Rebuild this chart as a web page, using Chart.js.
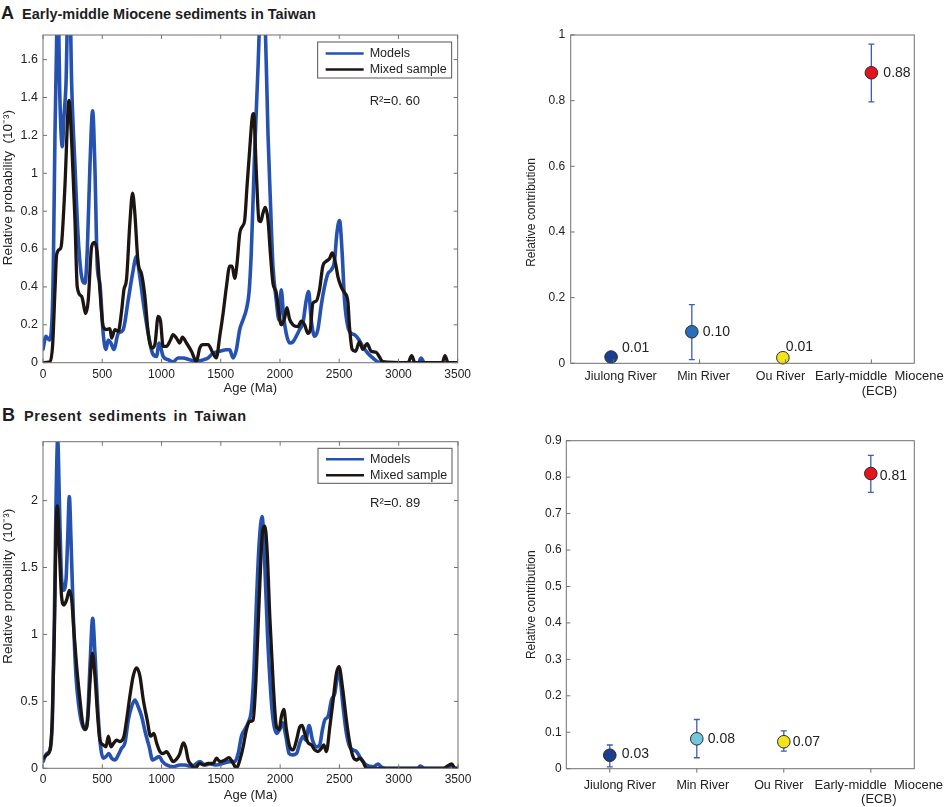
<!DOCTYPE html>
<html>
<head>
<meta charset="utf-8">
<script src="https://cdn.jsdelivr.net/npm/chart.js@4.4.1/dist/chart.umd.min.js"></script>
<style>
  body { margin: 0; background: #fff; width: 948px; height: 807px; position: relative; overflow: hidden;
         font-family: "Liberation Sans", Arial, sans-serif; color: #1e1e1e; }
  .head { position: absolute; left: 1px; font-weight: bold; font-size: 18px; line-height: 20px; white-space: nowrap; }
  .head .ttl { font-size: 14.5px; margin-left: 8px; }
  .box { position: absolute; }
</style>
</head>
<body>

<div class="head" style="top:3px"><span>A</span><span class="ttl">Early-middle Miocene sediments in Taiwan</span></div>
<div class="head" style="top:405px;left:2px"><span>B</span><span class="ttl" style="margin-left:9px;letter-spacing:0.7px;word-spacing:2px">Present sediments in Taiwan</span></div>

<div class="box" style="left:0;top:20px;width:476px;height:380px"><canvas id="specA"></canvas></div>
<div class="box" style="left:480px;top:20px;width:468px;height:380px"><canvas id="shareA"></canvas></div>
<div class="box" style="left:0;top:420px;width:476px;height:387px"><canvas id="specB"></canvas></div>
<div class="box" style="left:480px;top:420px;width:468px;height:387px"><canvas id="shareB"></canvas></div>

<script>
/*
 * Age spectra (age in Ma, relative probability in 10^-3)
 */
const aModelAge = [0, 25, 53, 73, 87, 101, 115, 125, 143, 163, 177, 194, 213, 228, 242, 270, 298, 326, 354, 374, 396, 419, 438, 458, 480, 508, 531, 551, 573, 598, 635, 677, 719, 756, 789, 817, 851, 888, 924, 958, 980, 1014, 1056, 1098, 1140, 1182, 1239, 1295, 1351, 1393, 1435, 1492, 1548, 1576, 1604, 1632, 1660, 1688, 1716, 1739, 1758, 1787, 1815, 1834, 1852, 1871, 1899, 1919, 1941, 1969, 1992, 2011, 2031, 2053, 2081, 2110, 2138, 2166, 2194, 2222, 2242, 2264, 2292, 2320, 2348, 2376, 2405, 2433, 2461, 2480, 2503, 2525, 2545, 2573, 2601, 2629, 2657, 2699, 2742, 2784, 2826, 2860, 3170, 3191, 3219, 3500];
const aModelVal = [0.07, 0.14, 0.12, 0.19, 0.5, 1.2, 1.7, 1.95, 1.385, 1.14, 1.3, 1.47, 1.95, 1.9, 1.47, 1.035, 0.65, 0.455, 0.42, 0.595, 1.035, 1.33, 1.035, 0.51, 0.42, 0.155, 0.07, 0.12, 0.104, 0.07, 0.155, 0.175, 0.33, 0.47, 0.56, 0.455, 0.3, 0.155, 0.05, 0.033, 0.104, 0.033, 0.016, 0.005, 0.025, 0.025, 0.015, 0.007, 0.015, 0.025, 0.05, 0.06, 0.068, 0.068, 0.025, 0.068, 0.174, 0.226, 0.28, 0.37, 0.58, 1.12, 1.56, 1.9, 2.05, 1.9, 1.21, 0.86, 0.51, 0.33, 0.226, 0.385, 0.245, 0.155, 0.104, 0.11, 0.14, 0.175, 0.21, 0.33, 0.375, 0.226, 0.14, 0.175, 0.3, 0.4, 0.47, 0.49, 0.54, 0.68, 0.75, 0.58, 0.33, 0.19, 0.155, 0.148, 0.13, 0.086, 0.05, 0.025, 0.005, 0, 0, 0.025, 0, 0];

const aMixAge = [0, 59, 81, 101, 115, 143, 157, 185, 213, 219, 242, 270, 289, 326, 362, 382, 410, 433, 458, 480, 508, 536, 565, 579, 607, 635, 663, 683, 705, 733, 756, 775, 803, 831, 860, 888, 916, 944, 972, 992, 1014, 1042, 1076, 1098, 1126, 1154, 1177, 1211, 1253, 1295, 1323, 1351, 1393, 1435, 1463, 1492, 1520, 1548, 1576, 1596, 1618, 1638, 1660, 1683, 1702, 1722, 1744, 1767, 1778, 1801, 1823, 1837, 1857, 1876, 1899, 1919, 1941, 1969, 1992, 2011, 2039, 2059, 2081, 2110, 2152, 2180, 2208, 2236, 2256, 2278, 2306, 2334, 2362, 2390, 2419, 2441, 2469, 2489, 2517, 2545, 2573, 2587, 2610, 2638, 2671, 2699, 2736, 2770, 2812, 2840, 2868, 3080, 3112, 3140, 3370, 3393, 3420, 3500];
const aMixVal = [0, 0.005, 0.09, 0.38, 0.57, 0.6, 0.63, 0.93, 1.36, 1.385, 1.17, 0.75, 0.4, 0.35, 0.26, 0.33, 0.61, 0.635, 0.58, 0.385, 0.19, 0.175, 0.18, 0.13, 0.175, 0.165, 0.27, 0.385, 0.44, 0.735, 0.895, 0.79, 0.525, 0.47, 0.35, 0.155, 0.077, 0.095, 0.245, 0.22, 0.086, 0.086, 0.12, 0.148, 0.13, 0.104, 0.135, 0.104, 0.06, 0.007, 0.077, 0.095, 0.095, 0.05, 0.025, 0.14, 0.26, 0.4, 0.51, 0.51, 0.445, 0.525, 0.68, 0.72, 0.75, 0.93, 1.12, 1.3, 1.315, 1.0, 0.75, 0.745, 0.79, 0.82, 0.755, 0.58, 0.42, 0.37, 0.26, 0.2, 0.235, 0.29, 0.23, 0.2, 0.19, 0.22, 0.2, 0.155, 0.175, 0.315, 0.325, 0.385, 0.51, 0.535, 0.55, 0.58, 0.525, 0.455, 0.4, 0.37, 0.325, 0.19, 0.07, 0.06, 0.11, 0.07, 0.1, 0.06, 0.055, 0.03, 0.005, 0, 0.037, 0, 0, 0.037, 0, 0];

const bModelAge = [0, 31, 59, 79, 96, 110, 124, 138, 152, 171, 194, 208, 222, 236, 256, 278, 303, 326, 354, 377, 396, 419, 438, 461, 486, 508, 531, 556, 579, 607, 635, 663, 691, 719, 747, 775, 803, 831, 865, 896, 924, 952, 980, 1008, 1042, 1098, 1154, 1197, 1253, 1323, 1365, 1407, 1463, 1520, 1576, 1618, 1646, 1674, 1702, 1730, 1758, 1778, 1801, 1823, 1848, 1871, 1893, 1919, 1941, 1969, 1997, 2020, 2048, 2076, 2104, 2138, 2166, 2194, 2216, 2244, 2273, 2306, 2334, 2357, 2376, 2405, 2433, 2461, 2489, 2503, 2531, 2559, 2587, 2615, 2643, 2671, 2699, 2727, 2784, 2826, 2854, 2896, 3160, 3180, 3219, 3420, 3447, 3475, 3500];
const bModelVal = [0.05, 0.11, 0.137, 0.36, 1.13, 2.0, 2.46, 2.0, 1.51, 1.33, 1.41, 1.71, 2.03, 1.71, 1.13, 0.69, 0.46, 0.34, 0.29, 0.39, 0.76, 1.12, 0.86, 0.46, 0.16, 0.075, 0.087, 0.11, 0.075, 0.062, 0.1, 0.15, 0.19, 0.36, 0.46, 0.51, 0.46, 0.39, 0.26, 0.16, 0.062, 0.075, 0.087, 0.05, 0.025, 0.012, 0.025, 0.025, 0.012, 0.05, 0.025, 0.032, 0.025, 0.037, 0.05, 0.05, 0.11, 0.24, 0.29, 0.34, 0.44, 0.71, 1.26, 1.68, 1.88, 1.51, 1.01, 0.59, 0.36, 0.26, 0.29, 0.34, 0.24, 0.11, 0.1, 0.11, 0.19, 0.24, 0.21, 0.32, 0.21, 0.16, 0.175, 0.29, 0.36, 0.39, 0.51, 0.56, 0.71, 0.69, 0.46, 0.26, 0.16, 0.137, 0.125, 0.087, 0.05, 0.025, 0.012, 0.032, 0.01, 0, 0, 0.017, 0, 0, 0.025, 0, 0];

const bMixAge = [0, 31, 59, 79, 96, 110, 121, 138, 157, 177, 200, 222, 242, 262, 284, 312, 334, 354, 377, 396, 416, 438, 461, 480, 508, 531, 551, 573, 598, 621, 649, 683, 705, 733, 761, 789, 817, 846, 879, 907, 935, 958, 986, 1014, 1042, 1070, 1098, 1132, 1154, 1183, 1202, 1225, 1253, 1281, 1323, 1351, 1393, 1435, 1463, 1492, 1534, 1567, 1604, 1632, 1660, 1688, 1716, 1744, 1772, 1795, 1823, 1851, 1871, 1890, 1913, 1941, 1969, 1992, 2011, 2031, 2053, 2081, 2110, 2138, 2166, 2185, 2208, 2236, 2264, 2292, 2320, 2348, 2368, 2390, 2419, 2447, 2475, 2497, 2525, 2559, 2587, 2615, 2643, 2671, 2699, 2727, 3380, 3404, 3447, 3475, 3500];
const bMixVal = [0.075, 0.1, 0.137, 0.39, 1.01, 1.76, 1.96, 1.63, 1.28, 1.22, 1.26, 1.33, 1.26, 1.01, 0.76, 0.51, 0.34, 0.29, 0.36, 0.64, 0.86, 0.69, 0.39, 0.21, 0.175, 0.16, 0.24, 0.16, 0.19, 0.21, 0.2, 0.24, 0.36, 0.54, 0.69, 0.75, 0.69, 0.51, 0.36, 0.24, 0.26, 0.19, 0.125, 0.11, 0.125, 0.087, 0.05, 0.075, 0.11, 0.19, 0.16, 0.062, 0.025, 0, 0.037, 0.025, 0.037, 0.037, 0.075, 0.05, 0.062, 0.08, 0.037, 0, 0.062, 0.16, 0.29, 0.35, 0.36, 0.64, 1.26, 1.76, 1.81, 1.63, 1.13, 0.64, 0.31, 0.29, 0.39, 0.44, 0.29, 0.16, 0.137, 0.21, 0.31, 0.32, 0.26, 0.19, 0.175, 0.137, 0.125, 0.15, 0.175, 0.125, 0.31, 0.51, 0.71, 0.76, 0.61, 0.36, 0.19, 0.087, 0.062, 0.075, 0.05, 0, 0, 0.012, 0.032, 0, 0];

const ageTicks = [0, 500, 1000, 1500, 2000, 2500, 3000, 3500];
const aProbTicks = [0, 0.2, 0.4, 0.6, 0.8, 1, 1.2, 1.4, 1.6];
const bProbTicks = [0, 0.5, 1, 1.5, 2];

/*
 * Mixing-model source contributions
 */
const sourceNames = ['Jiulong River', 'Min River', 'Ou River', ['Early-middle  Miocene', '(ECB)']];
const aSourcePos = [0.97, 1.91, 2.97, 4];
const aShare = [0.019, 0.096, 0.017, 0.885];
const aShareLow = [null, 0.011, null, 0.796];
const aShareHigh = [null, 0.179, null, 0.972];
const aShareText = ['0.01', '0.10', '0.01', '0.88'];

const bSourcePos = [1, 2, 3, 4];
const bShare = [0.037, 0.082, 0.074, 0.81];
const bShareLow = [0.005, 0.03, 0.048, 0.758];
const bShareHigh = [0.065, 0.135, 0.104, 0.86];
const bShareText = ['0.03', '0.08', '0.07', '0.81'];

const aShareTicks = [0, 0.2, 0.4, 0.6, 0.8, 1];
const bShareTicks = [0, 0.1, 0.2, 0.3, 0.4, 0.5, 0.6, 0.7, 0.8, 0.9];

// styles
const MODEL_BLUE = '#2552b0';
const MIX_BLACK = '#1c1512';
const FRAME = '#707070';
const INK = '#222';
const aMarker = ['#1d3d8f', '#2b6dbd', '#f3e31d', '#e3141b'];
const bMarker = ['#1d3d8f', '#72c7dc', '#f3e31d', '#e3141b'];

Chart.defaults.font.family = '"Liberation Sans", Arial, sans-serif';
Chart.defaults.color = INK;

const pairs = (xs, ys) => xs.map((x, i) => ({x: x, y: ys[i]}));
const fmt = v => String(Number(v.toFixed(2)));
const fixTicks = list => scale => { scale.ticks = list.map(v => ({value: v})); };
// the rotated axis titles sit off-centre in the original, nudge them with spaces
const nudge = (text, before, after) => ' '.repeat(before) + text + ' '.repeat(after);

/*
 * Matlab-like box with inward tick marks
 */
const frame = (o) => ({
  id: 'frame',
  afterDatasetsDraw(chart) {
    const {ctx, chartArea: a, scales: {x, y}} = chart;
    ctx.save();
    ctx.strokeStyle = FRAME;
    ctx.lineWidth = 1;
    ctx.strokeRect(a.left, a.top, a.right - a.left, a.bottom - a.top);
    ctx.beginPath();
    x.ticks.forEach(t => {
      const px = x.getPixelForValue(t.value);
      ctx.moveTo(px, a.bottom);
      ctx.lineTo(px, a.bottom - o.xDir * o.len);
      if (o.all) { ctx.moveTo(px, a.top); ctx.lineTo(px, a.top + o.len); }
    });
    y.ticks.forEach(t => {
      const py = y.getPixelForValue(t.value);
      ctx.moveTo(a.left, py); ctx.lineTo(a.left + o.len, py);
      if (o.all) { ctx.moveTo(a.right, py); ctx.lineTo(a.right - o.len, py); }
    });
    ctx.stroke();
    ctx.restore();
  }
});

const legendBox = (o) => ({
  id: 'legendBox',
  afterDatasetsDraw(chart) {
    const {ctx, chartArea: a} = chart;
    const x0 = a.right - o.right - o.width, y0 = a.top + o.top;
    ctx.save();
    ctx.fillStyle = '#fff';
    ctx.fillRect(x0, y0, o.width, o.height);
    ctx.strokeStyle = '#555';
    ctx.lineWidth = 1;
    ctx.strokeRect(x0, y0, o.width, o.height);
    ctx.font = '12.5px "Liberation Sans", Arial, sans-serif';
    ctx.textBaseline = 'middle';
    chart.data.datasets.forEach((ds, i) => {
      const yy = y0 + o.first + i * o.gap;
      ctx.strokeStyle = ds.borderColor;
      ctx.lineWidth = 2.5;
      ctx.beginPath();
      ctx.moveTo(x0 + 8, yy);
      ctx.lineTo(x0 + 46, yy);
      ctx.stroke();
      ctx.fillStyle = INK;
      ctx.fillText(ds.label, x0 + 52, yy);
    });
    ctx.restore();
  }
});

const note = (o) => ({
  id: 'note',
  afterDatasetsDraw(chart) {
    const {ctx, chartArea: a} = chart;
    ctx.save();
    ctx.font = '13px "Liberation Sans", Arial, sans-serif';
    ctx.fillStyle = INK;
    ctx.textBaseline = 'middle';
    ctx.fillText(o.text, a.right - o.dx, a.top + o.dy);
    ctx.restore();
  }
});

const errorBars = {
  id: 'errorBars',
  beforeDatasetsDraw(chart) {
    const {ctx, scales: {x, y}} = chart;
    ctx.save();
    ctx.strokeStyle = '#3b5cb8';
    ctx.lineWidth = 1.3;
    chart.data.datasets[0].data.forEach(p => {
      if (p.lo == null) return;
      const px = x.getPixelForValue(p.x);
      const p1 = y.getPixelForValue(p.lo), p2 = y.getPixelForValue(p.hi);
      ctx.beginPath();
      ctx.moveTo(px, p1); ctx.lineTo(px, p2);
      ctx.moveTo(px - 3, p1); ctx.lineTo(px + 3, p1);
      ctx.moveTo(px - 3, p2); ctx.lineTo(px + 3, p2);
      ctx.stroke();
    });
    ctx.restore();
  }
};

const valueLabels = (offsets) => ({
  id: 'valueLabels',
  afterDatasetsDraw(chart) {
    const {ctx} = chart;
    const meta = chart.getDatasetMeta(0);
    ctx.save();
    ctx.font = '14px "Liberation Sans", Arial, sans-serif';
    ctx.fillStyle = INK;
    ctx.textBaseline = 'middle';
    chart.data.datasets[0].data.forEach((p, i) => {
      const el = meta.data[i];
      ctx.fillText(p.text, el.x + offsets[i][0], el.y + offsets[i][1]);
    });
    ctx.restore();
  }
});

const categoryLabels = (o) => ({
  id: 'categoryLabels',
  afterDraw(chart) {
    const {ctx, chartArea: a, scales: {x}} = chart;
    ctx.save();
    ctx.fillStyle = INK;
    ctx.textAlign = 'center';
    ctx.textBaseline = 'middle';
    sourceNames.forEach((name, i) => {
      const lines = Array.isArray(name) ? name : [name];
      const cx = x.getPixelForValue(i + 1) + o.shift[i];
      ctx.font = (lines.length > 1 ? '13px' : '12.5px') + ' "Liberation Sans", Arial, sans-serif';
      lines.forEach((ln, k) => ctx.fillText(ln, cx, a.bottom + o.dy + k * o.gap));
    });
    ctx.restore();
  }
});

function spectrumChart(id, c) {
  return new Chart(document.getElementById(id), {
    type: 'line',
    data: {
      datasets: [
        {label: 'Models', data: pairs(c.modelAge, c.modelVal), borderColor: MODEL_BLUE, borderWidth: 3.6, order: 2},
        {label: 'Mixed sample', data: pairs(c.mixAge, c.mixVal), borderColor: MIX_BLACK, borderWidth: 3.3, order: 1}
      ]
    },
    options: {
      animation: false,
      events: [],
      responsive: true,
      maintainAspectRatio: false,
      layout: {padding: {left: 0, top: c.top, right: 18, bottom: 0}},
      elements: {
        point: {radius: 0},
        line: {cubicInterpolationMode: 'monotone', borderJoinStyle: 'round', borderCapStyle: 'round'}
      },
      plugins: {legend: {display: false}, tooltip: {enabled: false}},
      scales: {
        x: {
          type: 'linear', min: 0, max: 3500,
          afterBuildTicks: fixTicks(ageTicks),
          afterFit: s => { s.height = c.xHeight; },
          grid: {display: false, drawTicks: false},
          border: {display: false},
          ticks: {padding: c.xPad, autoSkip: false, maxRotation: 0, font: {size: 12}, callback: v => String(v)},
          title: {display: true, text: 'Age (Ma)', font: {size: 13}, padding: {top: 0, bottom: c.titlePad}}
        },
        y: {
          min: 0, max: c.yMax,
          afterBuildTicks: fixTicks(c.yTicks),
          afterFit: s => { s.width = 43; },
          grid: {display: false, drawTicks: false},
          border: {display: false},
          ticks: {padding: 5, font: {size: 12.5}, callback: fmt},
          title: {display: true, text: nudge('Relative probability  (10⁻³)', c.titleShift, 0),
                  font: {size: 13.5}, padding: {top: 0.5, bottom: 0}}
        }
      }
    },
    plugins: [frame({len: 4, xDir: 1, all: true}), legendBox(c.legend), note(c.note)]
  });
}

function shareChart(id, c) {
  const pts = c.pos.map((x, i) => ({x: x, y: c.share[i], lo: c.low[i], hi: c.high[i], text: c.text[i]}));
  return new Chart(document.getElementById(id), {
    type: 'scatter',
    data: {
      datasets: [{
        data: pts,
        clip: false,
        pointRadius: 6.3,
        pointBackgroundColor: c.colors,
        pointBorderColor: '#2a2a2a',
        pointBorderWidth: 1
      }]
    },
    options: {
      animation: false,
      events: [],
      responsive: true,
      maintainAspectRatio: false,
      layout: {padding: {left: 40, top: c.top, right: 33.7, bottom: 0}},
      plugins: {legend: {display: false}, tooltip: {enabled: false}},
      scales: {
        x: {
          type: 'linear', min: 0.5, max: 4.5,
          afterBuildTicks: fixTicks([1, 2, 3, 4]),
          afterFit: s => { s.height = c.xHeight; },
          grid: {display: false, drawTicks: false},
          border: {display: false},
          ticks: {display: false}
        },
        y: {
          min: 0, max: c.yMax,
          afterBuildTicks: fixTicks(c.yTicks),
          afterFit: s => { s.width = c.yWidth; },
          grid: {display: false, drawTicks: false},
          border: {display: false},
          ticks: {padding: c.yPad, font: {size: 12}, callback: fmt},
          title: {display: true, text: nudge('Relative contribution', 0, c.titleTail),
                  font: {size: 12}, padding: {top: c.titleOff, bottom: 0}}
        }
      }
    },
    plugins: [errorBars, frame({len: 4, xDir: c.xDir, all: false}), valueLabels(c.offsets), categoryLabels(c.cat)]
  });
}

spectrumChart('specA', {
  modelAge: aModelAge, modelVal: aModelVal, mixAge: aMixAge, mixVal: aMixVal,
  yMax: 1.73, yTicks: aProbTicks, top: 15, xHeight: 37.3, xPad: 5, titlePad: 3.5, titleShift: 6,
  legend: {right: 6, top: 7, width: 134, height: 36, first: 11.5, gap: 16},
  note: {text: 'R²=0. 60', dx: 88, dy: 66}
});

spectrumChart('specB', {
  modelAge: bModelAge, modelVal: bModelVal, mixAge: bMixAge, mixVal: bMixVal,
  yMax: 2.44, yTicks: bProbTicks, top: 21.7, xHeight: 38.7, xPad: 4.5, titlePad: 4, titleShift: 10,
  legend: {right: 6, top: 6.6, width: 134, height: 35, first: 11, gap: 16},
  note: {text: 'R²=0. 89', dx: 88, dy: 62}
});

shareChart('shareA', {
  pos: aSourcePos, share: aShare, low: aShareLow, high: aShareHigh, text: aShareText,
  colors: aMarker, yMax: 1, yTicks: aShareTicks,
  top: 15, xHeight: 36.7, yWidth: 50.7, yPad: 5.5, titleOff: 4.8, titleTail: 8, xDir: 1,
  offsets: [[11, -9], [11, 0], [3, -11], [12, 0]],
  cat: {shift: [7, 4, -5, 8], dy: 13.4, gap: 15}
});

shareChart('shareB', {
  pos: bSourcePos, share: bShare, low: bShareLow, high: bShareHigh, text: bShareText,
  colors: bMarker, yMax: 0.9, yTicks: bShareTicks,
  top: 20.7, xHeight: 38.3, yWidth: 46.3, yPad: 4.6, titleOff: 4.5, titleTail: 0, xDir: -1,
  offsets: [[12, -1], [11, 0], [9, 0], [9, 3]],
  cat: {shift: [10, 6, -5, 8], dy: 17, gap: 13.5}
});
</script>
</body>
</html>
